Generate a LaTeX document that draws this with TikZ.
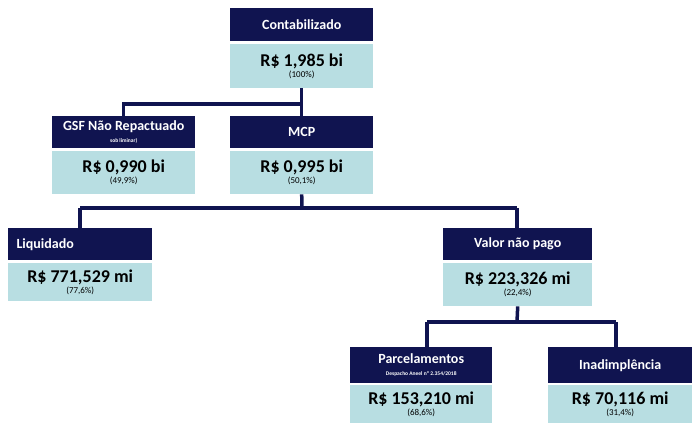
\documentclass[tikz,border=0pt]{standalone}
\usepackage{fontspec}
\setmainfont{Carlito}
\definecolor{navy}{HTML}{101450}
\definecolor{teal}{HTML}{B8DEE2}
\begin{document}
\begin{tikzpicture}[x=1pt,y=-1pt,
  hdr/.style={fill=navy,text=white,anchor=north west,inner sep=0pt,font=\bfseries\fontsize{14}{15}\selectfont,align=center},
  val/.style={fill=teal,anchor=north west,inner sep=0pt,align=center},
  conn/.style={draw=navy,line width=3.5pt}]
\useasboundingbox (0,0) rectangle (700,437);
\newcommand{\bx}[7]{% name x y w hh vh header value pct
}
% Contabilizado
\node[hdr,minimum width=143,minimum height=33] (ch) at (230,8) {Contabilizado};
\node[val,minimum width=143,minimum height=44] (cv) at (230,44) {{\bfseries\fontsize{18}{19}\selectfont R\$ 1,985 bi}\\[-1pt]{\fontsize{9}{10}\selectfont (100\%)}};
% GSF
\node[hdr,minimum width=143,minimum height=32] (gh) at (52,116) {GSF Não Repactuado\\[-3pt]{\fontsize{5.5}{6}\selectfont sob liminar)}};
\node[val,minimum width=143,minimum height=43] (gv) at (52,151) {{\bfseries\fontsize{18}{19}\selectfont R\$ 0,990 bi}\\[-1pt]{\fontsize{9}{10}\selectfont (49,9\%)}};
% MCP
\node[hdr,minimum width=143,minimum height=32] (mh) at (230,116) {MCP};
\node[val,minimum width=143,minimum height=43] (mv) at (230,151) {{\bfseries\fontsize{18}{19}\selectfont R\$ 0,995 bi}\\[-1pt]{\fontsize{9}{10}\selectfont (50,1\%)}};
% Liquidado
\node[hdr,minimum width=144,minimum height=32] (lh) at (8,228) {\hspace*{-70pt}Liquidado};
\node[val,minimum width=144,minimum height=38] (lv) at (8,263) {{\bfseries\fontsize{18}{19}\selectfont R\$ 771,529 mi}\\[-1pt]{\fontsize{9}{10}\selectfont (77,6\%)}};
% Valor nao pago
\node[hdr,minimum width=149,minimum height=32] (vh) at (443,228) {Valor não pago};
\node[val,minimum width=149,minimum height=43] (vv) at (443,263) {{\bfseries\fontsize{18}{19}\selectfont R\$ 223,326 mi}\\[-1pt]{\fontsize{9}{10}\selectfont (22,4\%)}};
% Parcelamentos
\node[hdr,minimum width=142,minimum height=36] (ph) at (350,347) {Parcelamentos\\[-3pt]{\fontsize{5.5}{6}\selectfont Despacho Aneel nº 2.354/2018}};
\node[val,minimum width=142,minimum height=38] (pv) at (350,385) {{\bfseries\fontsize{18}{19}\selectfont R\$ 153,210 mi}\\[-1pt]{\fontsize{9}{10}\selectfont (68,6\%)}};
% Inadimplencia
\node[hdr,minimum width=144,minimum height=36] (ih) at (548,347) {Inadimplência};
\node[val,minimum width=144,minimum height=38] (iv) at (548,385) {{\bfseries\fontsize{18}{19}\selectfont R\$ 70,116 mi}\\[-1pt]{\fontsize{9}{10}\selectfont (31,4\%)}};
% connectors
\coordinate (j1) at (302,104);
\draw[conn] (cv.south) -- (mh.north);
\draw[conn] (j1) -| (gh.north);
\coordinate (j2) at (302,208);
\draw[conn] (mv.south) -- (j2);
\draw[conn] (80,208) coordinate (l2) -- (517,208) coordinate (r2);
\draw[conn] (l2) -- (80,228);
\draw[conn] (r2) -- (517,228);
\coordinate (j3) at (517,322);
\draw[conn] (vv.south) -- (j3);
\draw[conn] (427,322) coordinate (l3) -- (616,322) coordinate (r3);
\draw[conn] (l3) -- (427,347);
\draw[conn] (r3) -- (616,347);
\end{tikzpicture}
\end{document}
